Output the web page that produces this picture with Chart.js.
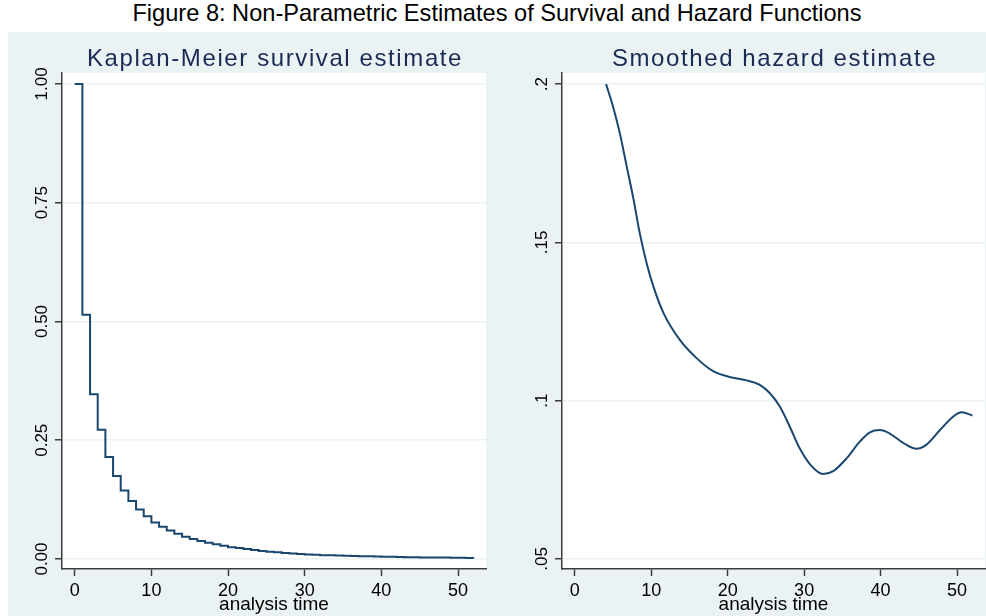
<!DOCTYPE html>
<html>
<head>
<meta charset="utf-8">
<script src="https://cdn.jsdelivr.net/npm/chart.js@4.4.1/dist/chart.umd.min.js"></script>
<style>
html, body { margin: 0; padding: 0; background: #fff; }
body { width: 986px; height: 616px; position: relative; overflow: hidden; font-family: 'Liberation Sans', Arial, sans-serif; }
#figTitle { position: absolute; left: 0; top: 0; width: 994px; text-align: center; font-size: 23.6px; line-height: 27px; color: #000; }
#panel { position: absolute; left: 8px; top: 32px; width: 978px; height: 584px; background: #EAF2F3; }
.box { position: absolute; top: 32px; height: 584px; }
#leftBox { left: 8px; width: 485px; }
#rightBox { left: 493px; width: 493px; }
</style>
</head>
<body>
<div id="figTitle">Figure 8: Non-Parametric Estimates of Survival and Hazard Functions</div>
<div id="panel"></div>
<div class="box" id="leftBox"><canvas id="kmChart"></canvas></div>
<div class="box" id="rightBox"><canvas id="hazChart"></canvas></div>
<script>
// Kaplan-Meier survival (step function)
const kmTimes = [0, 1, 2, 3, 4, 5, 6, 7, 8, 9, 10, 11, 12, 13, 14, 15, 16, 17, 18, 19, 20,
  21, 22, 23, 24, 25, 26, 27, 28, 29, 30, 31, 32, 33, 34, 35, 36, 37, 38, 39, 40,
  41, 42, 43, 44, 45, 46, 47, 48, 49, 50, 51, 52];
const kmSurvival = [1.00, 0.514, 0.347, 0.272, 0.215, 0.175, 0.144, 0.122, 0.104, 0.090, 0.077,
  0.068, 0.060, 0.053, 0.047, 0.042, 0.038, 0.034, 0.031, 0.028, 0.025,
  0.023, 0.021, 0.019, 0.017, 0.0155, 0.014, 0.0127, 0.0115, 0.0105, 0.0095,
  0.0088, 0.0082, 0.0077, 0.0072, 0.0068, 0.0063, 0.0059, 0.0056, 0.0052, 0.0049,
  0.0046, 0.0043, 0.0038, 0.0036, 0.0034, 0.0032, 0.0031, 0.0030, 0.0029, 0.0028,
  0.0022, 0.0016];

// smoothed hazard
const hazTimes = [4.1, 5.0, 5.9, 6.8, 7.7, 8.5, 9.4, 10.3, 11.6, 13.8, 15.9, 18.1, 20.7, 22.5,
  24.2, 25.5, 26.8, 28.1, 29.4, 30.8, 32.5, 33.8, 35.6, 37.3, 38.6, 39.9, 41.2, 43.0,
  44.7, 46.0, 47.8, 49.5, 50.6, 52.0];
const hazValues = [0.200, 0.193, 0.1845, 0.174, 0.1635, 0.153, 0.1435, 0.136, 0.1277, 0.119,
  0.1135, 0.1093, 0.1072, 0.1064, 0.105, 0.1024, 0.0982, 0.0919, 0.085, 0.0798,
  0.0768, 0.0777, 0.0819, 0.0871, 0.090, 0.0907, 0.0896, 0.0866, 0.0848, 0.0861,
  0.0908, 0.095, 0.0963, 0.0953];

const xTicks = [0, 10, 20, 30, 40, 50];
const kmYTicks = [0, 0.25, 0.5, 0.75, 1];
const kmYLabels = ['0.00', '0.25', '0.50', '0.75', '1.00'];
const hazYTicks = [0.05, 0.1, 0.15, 0.2];
const hazYLabels = ['.05', '.1', '.15', '.2'];

const FONT = "'Liberation Sans', Arial, sans-serif";
const AXIS = '#3c3c3c';
const GRID = '#EAF2F3';
const LINE = '#1A476F';

// white plot region
const plotBg = {
  id: 'plotBg',
  beforeDraw(chart) {
    const { ctx, chartArea: a } = chart;
    ctx.save();
    ctx.fillStyle = '#fff';
    ctx.fillRect(a.left, a.top, a.right - a.left, a.bottom - a.top);
    ctx.restore();
  }
};

// subplot title, spaced out like the original
const panelTitle = {
  id: 'panelTitle',
  afterDraw(chart, args, opts) {
    const { ctx, chartArea: a } = chart;
    ctx.save();
    ctx.font = '24px ' + FONT;
    ctx.letterSpacing = '1.6px';
    ctx.fillStyle = '#1a2a55';
    ctx.textAlign = 'center';
    ctx.textBaseline = 'alphabetic';
    ctx.fillText(opts.text, (a.left + a.right) / 2 + 1, 34);
    ctx.restore();
  }
};

// vertical y tick labels
const yLabels = {
  id: 'yLabels',
  afterDraw(chart, args, opts) {
    const { ctx } = chart;
    const y = chart.scales.y;
    ctx.save();
    ctx.fillStyle = '#000';
    ctx.font = '17px ' + FONT;
    ctx.textAlign = 'center';
    ctx.textBaseline = 'alphabetic';
    opts.values.forEach((v, i) => {
      ctx.save();
      ctx.translate(chart.chartArea.left - 21, y.getPixelForValue(v));
      ctx.rotate(-Math.PI / 2);
      ctx.fillText(opts.labels[i], 0, 17 * 0.358);
      ctx.restore();
    });
    ctx.restore();
  }
};

function buildOptions(cfg) {
  return {
    responsive: true,
    maintainAspectRatio: false,
    animation: false,
    layout: { padding: { top: 41, right: cfg.padRight, left: 0, bottom: 0 } },
    plugins: {
      legend: { display: false },
      tooltip: { enabled: false },
      panelTitle: { text: cfg.title },
      yLabels: { values: cfg.yTicks, labels: cfg.yLabels }
    },
    scales: {
      x: {
        type: 'linear',
        min: -1.66,
        max: 53.65,
        afterBuildTicks: s => { s.ticks = xTicks.map(v => ({ value: v })); },
        afterFit: s => { s.height = 47; },
        grid: { drawOnChartArea: false, drawTicks: true, tickLength: 7, tickColor: AXIS, tickWidth: 1.5 },
        border: { color: AXIS, width: 1.5 },
        ticks: { color: '#000', font: { size: 18, family: FONT }, padding: 4, maxRotation: 0, autoSkip: false },
        title: { display: true, text: 'analysis time', color: '#000', font: { size: 19, family: FONT }, padding: { top: 0, bottom: 0 } }
      },
      y: {
        type: 'linear',
        min: cfg.yMin,
        max: cfg.yMax,
        afterBuildTicks: s => { s.ticks = cfg.yTicks.map(v => ({ value: v })); },
        afterFit: s => { s.width = cfg.yWidth; },
        grid: { color: GRID, lineWidth: 1.5, drawTicks: true, tickLength: 7, tickColor: AXIS, tickWidth: 1.5 },
        border: { color: AXIS, width: 1.5 },
        ticks: { display: false }
      }
    }
  };
}

new Chart(document.getElementById('kmChart'), {
  type: 'line',
  data: {
    datasets: [{
      data: kmTimes.map((t, i) => ({ x: t, y: kmSurvival[i] })),
      stepped: true,
      borderColor: LINE,
      borderWidth: 2,
      pointRadius: 0,
      fill: false
    }]
  },
  options: buildOptions({
    title: 'Kaplan-Meier survival estimate',
    yMin: -0.021, yMax: 1.023,
    yTicks: kmYTicks, yLabels: kmYLabels,
    yWidth: 54, padRight: 7
  }),
  plugins: [plotBg, panelTitle, yLabels]
});

new Chart(document.getElementById('hazChart'), {
  type: 'line',
  data: {
    datasets: [{
      data: hazTimes.map((t, i) => ({ x: t, y: hazValues[i] })),
      cubicInterpolationMode: 'monotone',
      borderColor: LINE,
      borderWidth: 2,
      pointRadius: 0,
      fill: false
    }]
  },
  options: buildOptions({
    title: 'Smoothed hazard estimate',
    yMin: 0.0468, yMax: 0.2035,
    yTicks: hazYTicks, yLabels: hazYLabels,
    yWidth: 69, padRight: 1
  }),
  plugins: [plotBg, panelTitle, yLabels]
});
</script>
</body>
</html>
